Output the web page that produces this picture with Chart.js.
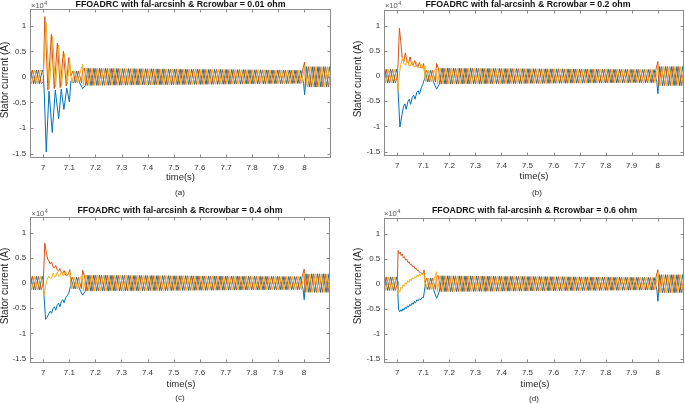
<!DOCTYPE html>
<html>
<head>
<meta charset="utf-8">
<script src="https://cdn.jsdelivr.net/npm/chart.js@4.4.1/dist/chart.umd.min.js"></script>
<style>
  html, body { margin: 0; padding: 0; background: #fff; }
  #fig { position: relative; width: 685px; height: 403px; overflow: hidden; }
  #fig canvas { position: absolute; }
</style>
</head>
<body>
<div id="fig"></div>
<script>
// ---- data ----
const xTicks = [7, 7.1, 7.2, 7.3, 7.4, 7.5, 7.6, 7.7, 7.8, 7.9, 8];
const yTicks = [-15000, -10000, -5000, 0, 5000, 10000];
const xRange = [6.95, 8.1];
const yRange = [-15800, 13200];

const titles = [
  'FFOADRC with fal-arcsinh & Rcrowbar = 0.01 ohm',
  'FFOADRC with fal-arcsinh & Rcrowbar = 0.2 ohm',
  'FFOADRC with fal-arcsinh & Rcrowbar = 0.4 ohm',
  'FFOADRC with fal-arcsinh & Rcrowbar = 0.6 ohm'
];
const captions = ['(a)', '(b)', '(c)', '(d)'];
const phaseNames = ['ia', 'ib', 'ic'];
const phaseColors = ['rgb(0,114,189)', 'rgb(217,83,25)', 'rgb(237,177,32)'];

// spacing of the current peaks (s)
const period = 0.022;

// band peak levels (A): pre-fault, 7.10-7.15, at 7.15, at 8.0, after 8.0
const bandA = [1350, 1150, 1700, 1300, 2000];
const bandB = [1350, 1150, 1600, 1300, 1900];
const bandC = [1350, 1150, 1600, 1300, 1850];
const bandD = [1350, 1150, 1600, 1250, 1800];

// spikes [blue, orange, yellow] at 7.15 s and at 8.0 s
const spike715A = [-2300, 1200, 2500];
const spike715B = [-2600, 2500, 1500];
const spike715C = [-2400, 2600, 1500];
const spike715D = [-2900, 1500, 2400];
const spike8A = [-3500, 2900, 2200];
const spike8B = [-3500, 2900, 2000];
const spike8C = [-3300, 2800, 2000];
const spike8D = [-3500, 2800, 2200];

// crowbar transient 7.00-7.11 s, [time, current]
const blueA = [[7.000, 900], [7.004, -3500], [7.0115, -14700], [7.022, -2800], [7.0345, -10900], [7.046, -2600], [7.059, -8200], [7.069, -2400], [7.079, -6400], [7.090, -2200], [7.100, -4900], [7.106, -800]];
const orangeA = [[7.000, -900], [7.006, 11800], [7.018, -2600], [7.031, 8300], [7.042, -2300], [7.054, 6600], [7.065, -2100], [7.077, 5000], [7.088, -1800], [7.098, 3800], [7.106, 200]];
const yellowA = [[7.000, 400], [7.011, 10600], [7.023, -2300], [7.036, 7900], [7.047, -2000], [7.059, 6200], [7.070, -1800], [7.082, 4600], [7.092, -1400], [7.101, 3200], [7.107, -300]];

const blueB = [[7.000, 500], [7.003, -3000], [7.010, -10100], [7.018, -7600], [7.024, -6000], [7.029, -5500], [7.034, -6600], [7.041, -5000], [7.046, -4600], [7.051, -5600], [7.058, -4100], [7.063, -3800], [7.068, -4600], [7.075, -3200], [7.080, -2900], [7.085, -3600], [7.092, -2300], [7.098, -1600], [7.104, -600]];
const orangeB = [[7.000, 0], [7.003, 2500], [7.008, 9500], [7.013, 7000], [7.019, 3600], [7.025, 2800], [7.031, 4600], [7.037, 3000], [7.043, 2500], [7.049, 3800], [7.055, 2400], [7.061, 2100], [7.067, 3100], [7.073, 2000], [7.079, 1800], [7.085, 2700], [7.091, 1600], [7.097, 1700], [7.101, 2500], [7.105, 300]];
const yellowB = [[7.000, -500], [7.003, -3000], [7.008, 500], [7.014, 2500], [7.020, 3600], [7.026, 2400], [7.032, 2200], [7.038, 3400], [7.044, 2100], [7.050, 2000], [7.056, 3000], [7.062, 1900], [7.068, 1800], [7.074, 2700], [7.080, 1700], [7.086, 1600], [7.092, 2400], [7.098, 1500], [7.103, 2000], [7.106, -300]];

const blueC = [[7.000, 500], [7.003, -2500], [7.009, -7200], [7.015, -6800], [7.021, -6100], [7.027, -5600], [7.032, -6000], [7.038, -5000], [7.043, -4700], [7.048, -5400], [7.054, -4300], [7.059, -4000], [7.064, -4700], [7.070, -3600], [7.075, -3300], [7.080, -3900], [7.086, -2900], [7.092, -2500], [7.098, -2000], [7.104, -700]];
const orangeC = [[7.000, 0], [7.006, 8000], [7.012, 6000], [7.017, 4800], [7.022, 4400], [7.027, 3800], [7.032, 4200], [7.038, 3200], [7.043, 3000], [7.048, 3500], [7.054, 2600], [7.059, 2400], [7.064, 2900], [7.070, 2100], [7.075, 1900], [7.080, 2500], [7.086, 1600], [7.092, 1500], [7.098, 2000], [7.102, 2700], [7.105, 300]];
const yellowC = [[7.000, -500], [7.003, -2500], [7.009, -600], [7.015, 700], [7.021, 1400], [7.027, 900], [7.032, 1000], [7.038, 2000], [7.043, 1200], [7.048, 1300], [7.054, 2200], [7.059, 1300], [7.064, 1500], [7.070, 2400], [7.075, 1500], [7.080, 1600], [7.086, 2300], [7.092, 1500], [7.098, 1800], [7.102, 2300], [7.106, -200]];

const blueD = [[7.000, 500], [7.002, -2000], [7.005, -5200], [7.009, -5600], [7.013, -5200], [7.017, -5500], [7.021, -5000], [7.025, -5300], [7.030, -4700], [7.034, -5000], [7.039, -4400], [7.043, -4700], [7.048, -4100], [7.052, -4400], [7.057, -3800], [7.061, -4100], [7.066, -3500], [7.070, -3800], [7.075, -3200], [7.080, -3400], [7.085, -3000], [7.090, -3200], [7.095, -2700], [7.100, -2800], [7.104, -1500], [7.108, 0]];
const orangeD = [[7.000, 0], [7.003, 6600], [7.007, 6000], [7.011, 6300], [7.015, 5600], [7.019, 5900], [7.023, 5200], [7.027, 5400], [7.032, 4700], [7.036, 4900], [7.041, 4200], [7.045, 4400], [7.050, 3800], [7.054, 3900], [7.059, 3400], [7.063, 3500], [7.068, 3000], [7.072, 3100], [7.077, 2600], [7.081, 2700], [7.086, 2200], [7.090, 2300], [7.095, 1900], [7.099, 2000], [7.103, 2700], [7.107, 200]];
const yellowD = [[7.000, -500], [7.002, -2000], [7.006, -1300], [7.010, -1600], [7.014, -700], [7.018, -1000], [7.022, -200], [7.026, -500], [7.031, 200], [7.035, -100], [7.040, 600], [7.044, 300], [7.049, 900], [7.053, 600], [7.058, 1200], [7.062, 900], [7.067, 1400], [7.071, 1100], [7.076, 1700], [7.080, 1400], [7.085, 1900], [7.089, 1600], [7.094, 2100], [7.098, 1800], [7.102, 2200], [7.106, -200]];

// ---- layout (page pixels) ----
const layouts = [
  { x: 0,   y: 0,   w: 342, h: 200, area: [30.2, 9.4, 330.5, 157.6], title: [180.5, 4.5], xlab: [180.5, 177.5], ylab: [5, 80],    cap: [180, 193],   exp: [31, 6] },
  { x: 342, y: 0,   w: 343, h: 200, area: [384.3, 9.6, 683.7, 155.7], title: [528, 4.5], xlab: [534, 176],     ylab: [358.5, 79], cap: [537, 193],   exp: [385, 6] },
  { x: 0,   y: 200, w: 342, h: 203, area: [30.2, 216.8, 330, 362.5], title: [180, 211], xlab: [181, 384],     ylab: [5, 286],    cap: [180, 398],   exp: [31.5, 213.5] },
  { x: 342, y: 200, w: 343, h: 203, area: [384.3, 217.5, 683.7, 363], title: [534.5, 211], xlab: [535, 384],   ylab: [358.5, 286], cap: [534, 399], exp: [384, 214] }
];

// alternate peaks of one phase on a fixed time grid
function zig(pts, t0, t1, a0, a1, off) {
  const h = period / 2;
  const n0 = Math.ceil((t0 - off) / h), n1 = Math.floor((t1 - off) / h);
  for (let n = n0; n <= n1; n++) {
    const t = off + n * h;
    const amp = a0 + (a1 - a0) * (t - t0) / (t1 - t0);
    pts.push({ x: t, y: (n % 2 === 0 ? amp : -amp) });
  }
}

function phaseSeries(k, band, trans, s715, s8) {
  const off = k * period / 3;
  const pts = [];
  zig(pts, 6.93, 6.998, band[0], band[0], off);
  trans.forEach(p => pts.push({ x: p[0], y: p[1] }));
  const tEnd = trans[trans.length - 1][0] + 0.002;
  zig(pts, tEnd, 7.149, band[1], band[1], off);
  pts.push({ x: 7.151, y: s715[k] });
  zig(pts, 7.153, 7.998, band[2], band[3], off);
  pts.push({ x: 8.001, y: s8[k] });
  zig(pts, 8.003, 8.12, band[4], band[4], off);
  pts.sort((a, b) => a.x - b.x);
  return pts;
}

const panels = [
  { band: bandA, trans: [blueA, orangeA, yellowA], s715: spike715A, s8: spike8A },
  { band: bandB, trans: [blueB, orangeB, yellowB], s715: spike715B, s8: spike8B },
  { band: bandC, trans: [blueC, orangeC, yellowC], s715: spike715C, s8: spike8C },
  { band: bandD, trans: [blueD, orangeD, yellowD], s715: spike715D, s8: spike8D }
];

const FONT = "'Liberation Sans', Arial, Helvetica, sans-serif";

// box with inward ticks plus the MATLAB-style texts
const figText = {
  id: 'figText',
  afterDraw(chart, args, o) {
    const ctx = chart.ctx, a = chart.chartArea;
    const xs = chart.scales.x, ys = chart.scales.y;
    const L = Math.round(a.left) + 0.5, R = Math.round(a.right) - 0.5;
    const T = Math.round(a.top) + 0.5, B = Math.round(a.bottom) - 0.5;
    ctx.save();
    ctx.strokeStyle = '#8c8c8c';
    ctx.lineWidth = 1;
    ctx.strokeRect(L, T, R - L, B - T);
    ctx.beginPath();
    xTicks.forEach(v => {
      const px = Math.round(xs.getPixelForValue(v)) + 0.5;
      ctx.moveTo(px, B); ctx.lineTo(px, B - 3);
      ctx.moveTo(px, T); ctx.lineTo(px, T + 3);
    });
    yTicks.forEach(v => {
      const py = Math.round(ys.getPixelForValue(v)) + 0.5;
      ctx.moveTo(L, py); ctx.lineTo(L + 3, py);
      ctx.moveTo(R, py); ctx.lineTo(R - 3, py);
    });
    ctx.stroke();

    const lay = o.lay;
    ctx.textAlign = 'center';
    ctx.textBaseline = 'middle';
    ctx.fillStyle = '#111';
    ctx.font = 'bold 8.8px ' + FONT;
    ctx.fillText(o.title, lay.title[0] - lay.x, lay.title[1] - lay.y);

    ctx.fillStyle = '#262626';
    ctx.font = '9.5px ' + FONT;
    ctx.fillText('time(s)', lay.xlab[0] - lay.x, lay.xlab[1] - lay.y);

    ctx.font = '8px ' + FONT;
    ctx.fillText(o.caption, lay.cap[0] - lay.x, lay.cap[1] - lay.y);

    ctx.save();
    ctx.translate(lay.ylab[0] - lay.x, lay.ylab[1] - lay.y);
    ctx.rotate(-Math.PI / 2);
    ctx.font = '10px ' + FONT;
    ctx.fillText('Stator current (A)', 0, 0);
    ctx.restore();

    ctx.textAlign = 'left';
    ctx.fillStyle = '#555';
    ctx.font = '7.5px ' + FONT;
    const ex = lay.exp[0] - lay.x, ey = lay.exp[1] - lay.y;
    ctx.fillText('\u00d710', ex, ey);
    const w = ctx.measureText('\u00d710').width;
    ctx.font = '5.5px ' + FONT;
    ctx.fillText('4', ex + w + 0.5, ey - 2.5);
    ctx.restore();
  }
};

const fig = document.getElementById('fig');
panels.forEach((p, i) => {
  const lay = layouts[i];
  const cv = document.createElement('canvas');
  cv.width = lay.w; cv.height = lay.h;
  cv.style.left = lay.x + 'px'; cv.style.top = lay.y + 'px';
  fig.appendChild(cv);
  const a = lay.area;
  const areaL = a[0] - lay.x, areaT = a[1] - lay.y, areaR = a[2] - lay.x, areaB = a[3] - lay.y;

  const datasets = [0, 1, 2].map(k => ({
    label: phaseNames[k],
    data: phaseSeries(k, p.band, p.trans[k], p.s715, p.s8),
    borderColor: phaseColors[k],
    borderWidth: 1,
    pointRadius: 0,
    tension: 0,
    fill: false,
    order: 3 - k
  }));

  new Chart(cv, {
    type: 'line',
    data: { datasets: datasets },
    options: {
      responsive: false,
      animation: false,
      events: [],
      layout: { padding: { left: 0, top: areaT, right: lay.w - areaR, bottom: 0 } },
      plugins: {
        legend: { display: false },
        tooltip: { enabled: false },
        title: { display: false },
        figText: { lay: lay, title: titles[i], caption: captions[i] }
      },
      scales: {
        x: {
          type: 'linear',
          min: xRange[0], max: xRange[1],
          afterBuildTicks: s => { s.ticks = xTicks.map(v => ({ value: v })); },
          afterFit: s => { s.height = lay.h - areaB; },
          grid: { display: false, drawTicks: false },
          border: { display: false },
          ticks: {
            autoSkip: false, maxRotation: 0, padding: 5,
            color: '#333', font: { family: FONT, size: 8 },
            callback: v => String(Math.round(v * 10) / 10)
          }
        },
        y: {
          type: 'linear',
          min: yRange[0], max: yRange[1],
          afterBuildTicks: s => { s.ticks = yTicks.map(v => ({ value: v })); },
          afterFit: s => { s.width = areaL; },
          grid: { display: false, drawTicks: false },
          border: { display: false },
          ticks: {
            autoSkip: false, padding: 4,
            color: '#333', font: { family: FONT, size: 8 },
            callback: v => String(v / 10000)
          }
        }
      }
    },
    plugins: [figText]
  });
});
</script>
</body>
</html>
